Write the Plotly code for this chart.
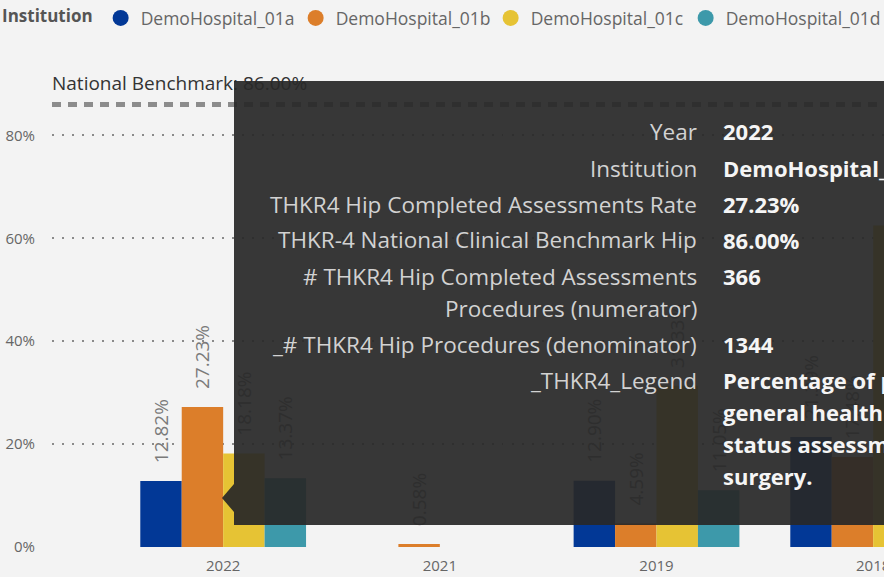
import plotly.graph_objects as go

# ---------------- data ----------------
years = ["2022", "2021", "2019", "2018"]
institutions = ["DemoHospital_01a", "DemoHospital_01b", "DemoHospital_01c", "DemoHospital_01d"]
rate_01a = [12.82, None, 12.90, 21.39]
rate_01b = [27.23, 0.58, 4.59, 17.48]
rate_01c = [18.18, None, 31.33, 62.50]
rate_01d = [13.37, None, 11.05, 14.20]
benchmark = 86.00
yticks = [0, 20, 40, 60, 80]
ytick_labels = ["0%", "20%", "40%", "60%", "80%"]

# tooltip content (hovered: 2022, DemoHospital_01b)
tip_numerator = 366
tip_denominator = 1344
tip_labels = ["Year", "Institution", "THKR4 Hip Completed Assessments Rate",
              "THKR-4 National Clinical Benchmark Hip", "# THKR4 Hip Completed Assessments",
              "Procedures (numerator)", "_# THKR4 Hip Procedures (denominator)", "_THKR4_Legend"]
tip_legend_lines = ["Percentage of patients with a", "general health and functional",
                    "status assessment before", "surgery."]

colors = ["#023896", "#DC7E2A", "#E6C334", "#3D99AA"]
series = [rate_01a, rate_01b, rate_01c, rate_01d]

W, H = 884, 577
ML, MR, MT, MB = 52, 0, 53, 30
PW, PH = W - ML - MR, H - MT - MB
PX_PER_PCT = (547 - 135.4) / 80.0
YTOP = PH / PX_PER_PCT


def px_x(px):
    return (px - ML) / PW


def px_y(py):
    return (H - MB - py) / PH


FONT = "Open Sans"
NB = "\u00a0"

fig = go.Figure()
for name, vals, col in zip(institutions, series, colors):
    fig.add_bar(x=years, y=vals, name=name, marker_color=col, marker_line_width=0,
                texttemplate=NB * 3 + "%{y:.2f}%", textposition="outside", textangle=-90,
                textfont=dict(family=FONT, size=19, color="#7a7a7a"),
                constraintext="none", cliponaxis=False, showlegend=False, hoverinfo="skip")
# legend entries (circles)
for name, col in zip(institutions, colors):
    fig.add_scatter(x=[None], y=[None], mode="markers", name=name,
                    marker=dict(symbol="circle", size=16, color=col), showlegend=True)

shapes = [
    dict(type="line", xref="paper", x0=0, x1=1.1, yref="y", y0=benchmark, y1=benchmark,
         line=dict(color="#8c8c8c", width=5, dash="9px,7px"),
         label=dict(text="National Benchmark: %.2f%%" % benchmark, textposition="start",
                    xanchor="left", yanchor="bottom", padding=8,
                    font=dict(family=FONT, size=19, color="#333333"))),
    # tooltip box
    dict(type="rect", xref="paper", yref="paper", x0=px_x(234), x1=px_x(900),
         y0=px_y(525), y1=px_y(81), fillcolor="rgba(40,40,40,0.93)", line_width=0, layer="above"),
    dict(type="path", xref="paper", yref="paper",
         path="M %f,%f L %f,%f L %f,%f Z" % (px_x(222), px_y(498), px_x(234), px_y(484),
                                              px_x(234), px_y(512)),
         fillcolor="rgba(40,40,40,0.93)", line_width=0, layer="above"),
]

tip_values = [years[0], institutions[1], "%.2f%%" % rate_01b[0], "%.2f%%" % benchmark,
              str(tip_numerator), "", str(tip_denominator)] + tip_legend_lines
label_y = [131, 168, 204, 240, 276, 308, 344, 380]
value_y = [131, 168, 204, 240, 276, 308, 344, 380, 412, 444, 476]

annotations = []
for t, y in zip(tip_labels, label_y):
    annotations.append(dict(xref="paper", yref="paper", x=px_x(699), y=px_y(y), text=t,
                            xanchor="right", yanchor="middle", showarrow=False,
                            font=dict(family=FONT, size=22.5, color="#d2d2d2")))
for t, y in zip(tip_values, value_y):
    if t:
        annotations.append(dict(xref="paper", yref="paper", x=px_x(721), y=px_y(y), text="<b>%s</b>" % t,
                                xanchor="left", yanchor="middle", showarrow=False,
                                font=dict(family=FONT, size=22, color="#f5f5f5")))

fig.update_layout(
    width=W, height=H,
    margin=dict(l=ML, r=MR, t=MT, b=MB, pad=0, autoexpand=False),
    paper_bgcolor="#F3F3F3", plot_bgcolor="#F3F3F3",
    barmode="group", bargap=0.235, bargroupgap=0,
    font=dict(family=FONT, color="#666666"),
    showlegend=True,
    legend=dict(orientation="h", xref="container", yref="container", x=0, y=1, xanchor="left",
                yanchor="top", title=dict(text="<b>Institution</b>", side="left",
                                          font=dict(family=FONT, size=17, color="#555555")),
                font=dict(family=FONT, size=17.5, color="#666666"),
                entrywidth=150, entrywidthmode="pixels", itemsizing="trace",
                bgcolor="rgba(0,0,0,0)"),
    xaxis=dict(type="category", categoryorder="array", categoryarray=years,
               range=[-0.79, 3.05], showgrid=False, zeroline=False, showline=False,
               tickfont=dict(family=FONT, size=15, color="#666666"), ticks="",
               ticklabelstandoff=8, automargin=False),
    yaxis=dict(range=[0, YTOP], tickvals=yticks, ticktext=ytick_labels, showgrid=True,
               gridcolor="#8a8a8a", gridwidth=1.5, griddash="1.5px,8.5px", zeroline=False,
               showline=False, ticks="", ticklabelstandoff=16, automargin=False,
               tickfont=dict(family=FONT, size=15, color="#666666")),
    shapes=shapes, annotations=annotations,
    hovermode=False,
)

fig.write_html("out.html", config={"displayModeBar": False},
               post_script="document.body.style.margin='0';document.body.style.overflow='hidden';")
